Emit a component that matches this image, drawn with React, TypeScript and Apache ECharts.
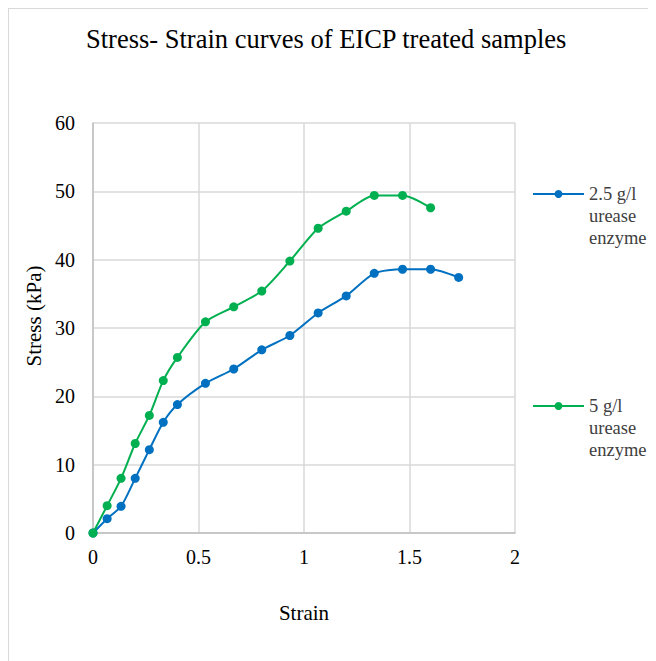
import React, { useEffect, useRef } from "react";
import * as echarts from "echarts";

const strainBlue = [0, 0.067, 0.133, 0.2, 0.267, 0.333, 0.4, 0.533, 0.667, 0.8, 0.933, 1.067, 1.2, 1.333, 1.467, 1.6, 1.733];
const stressBlue = [0, 2.1, 3.9, 8.0, 12.2, 16.2, 18.8, 21.9, 24.0, 26.8, 28.9, 32.2, 34.7, 38.0, 38.6, 38.6, 37.4];
const strainGreen = [0, 0.067, 0.133, 0.2, 0.267, 0.333, 0.4, 0.533, 0.667, 0.8, 0.933, 1.067, 1.2, 1.333, 1.467, 1.6];
const stressGreen = [0, 4.0, 8.0, 13.1, 17.2, 22.3, 25.7, 30.9, 33.1, 35.4, 39.8, 44.6, 47.1, 49.4, 49.4, 47.6];
const seriesNames = ["2.5 g/l urease enzyme", "5 g/l urease enzyme"];
const legendLabels: Record<string, string> = {
  "2.5 g/l urease enzyme": "\n\n2.5 g/l\nurease\nenzyme",
  "5 g/l urease enzyme": "\n\n5 g/l\nurease\nenzyme",
};

const FONT = "Liberation Serif";

export default function App() {
  const ref = useRef<HTMLDivElement>(null);
  useEffect(() => {
    if (!ref.current) return;
    const chart = echarts.init(ref.current, null, { renderer: "svg" });
    const lh = 22;
    const legendCommon = {
      orient: "vertical" as const,
      left: 523,
      padding: 0,
      itemWidth: 51,
      itemHeight: 10,
      itemGap: 0,
      formatter: (n: string) => legendLabels[n] || n,
      textStyle: {
        fontFamily: FONT,
        fontSize: 18.5,
        color: "#404040",
        lineHeight: lh,
      },
    };
    chart.setOption({
      animation: false,
      backgroundColor: "#ffffff",
      title: {
        text: "Stress- Strain curves of EICP treated samples",
        left: 77,
        top: 16,
        padding: 0,
        textStyle: { fontFamily: FONT, fontSize: 26.5, fontWeight: "normal", color: "#000000" },
      },
      legend: [
        { ...legendCommon, top: 185 - 2.5 * lh, data: [seriesNames[0]] },
        { ...legendCommon, top: 397 - 2.5 * lh, data: [seriesNames[1]] },
      ],
      grid: { left: 84, top: 114, width: 422, height: 410, containLabel: false },
      xAxis: {
        type: "value",
        min: 0,
        max: 2,
        interval: 0.5,
        name: "Strain",
        nameLocation: "middle",
        nameGap: 69,
        nameTextStyle: { fontFamily: FONT, fontSize: 21, color: "#000000" },
        axisLine: { show: true, lineStyle: { color: "#bfbfbf", width: 1.5 } },
        axisTick: { show: false },
        axisLabel: { fontFamily: FONT, fontSize: 20, color: "#000000", margin: 14 },
        splitLine: { show: true, lineStyle: { color: "#d9d9d9", width: 1.5 } },
      },
      yAxis: {
        type: "value",
        min: 0,
        max: 60,
        interval: 10,
        name: "Stress (kPa)",
        nameLocation: "middle",
        nameGap: 46,
        nameRotate: 90,
        nameTextStyle: { fontFamily: FONT, fontSize: 21, color: "#000000", padding: [0, 0, 0, 24] },
        axisLine: { show: true, lineStyle: { color: "#bfbfbf", width: 1.5 } },
        axisTick: { show: false },
        axisLabel: { fontFamily: FONT, fontSize: 20, color: "#000000", margin: 18 },
        splitLine: { show: true, lineStyle: { color: "#d9d9d9", width: 1.5 } },
      },
      series: [
        {
          name: seriesNames[0],
          type: "line",
          smooth: 0.25,
          symbol: "circle",
          symbolSize: 9,
          itemStyle: { color: "#0070c0" },
          lineStyle: { color: "#0070c0", width: 2 },
          data: strainBlue.map((x, i) => [x, stressBlue[i]]),
        },
        {
          name: seriesNames[1],
          type: "line",
          smooth: 0.25,
          symbol: "circle",
          symbolSize: 9,
          itemStyle: { color: "#00b050" },
          lineStyle: { color: "#00b050", width: 2 },
          data: strainGreen.map((x, i) => [x, stressGreen[i]]),
        },
      ],
    });
    return () => chart.dispose();
  }, []);
  return (
    <div style={{ width: 647, height: 652, borderLeft: "1px solid #d9d9d9", borderTop: "1px solid #d9d9d9" }}>
      <div ref={ref} style={{ width: 647, height: 652 }} />
    </div>
  );
}
